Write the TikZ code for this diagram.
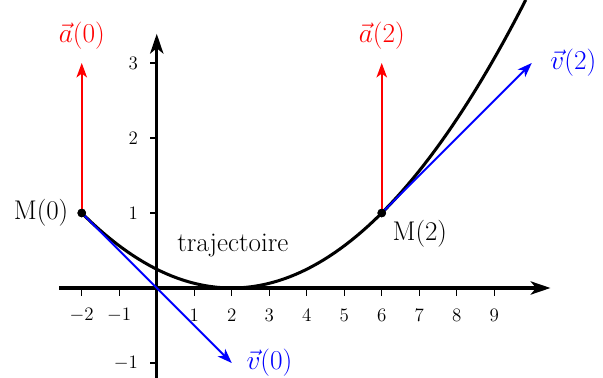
\documentclass[tikz,border=0pt]{standalone}
\usetikzlibrary{arrows.meta}
\begin{document}
\begin{tikzpicture}[x=1cm,y=2cm,
  axis/.style={line width=2.5pt,-{Stealth[length=15pt,width=10pt,inset=4pt]}},
  tickmark/.style={line width=0.8pt},
  ticklabel/.style={inner sep=0pt,font=\fontsize{15}{17}\selectfont},
  lbl/.style={inner sep=0pt,font=\fontsize{20.5}{23}\selectfont},
  vecarrow/.style={line width=1.4pt,-{Stealth[length=11pt,width=8pt,inset=3pt]}},
  curve/.style={line width=2.3pt},
  dot/.style={circle,fill=black,inner sep=0pt,minimum size=6.5pt}]
\useasboundingbox (-4.18,-1.2) rectangle (11.9,3.84);
% axes
\coordinate (xs) at (-2.6,0);
\coordinate (xe) at (10.5,0);
\coordinate (ys) at (0,-1.25);
\coordinate (ye) at (0,3.39);
\draw[axis] (xs) -- (xe);
\draw[axis] (ys) -- (ye);
\foreach \x in {-2,-1,1,2,3,4,5,6,7,8,9}{
  \draw[tickmark] (\x,0) -- ++(0,-6pt);
  \node[ticklabel] at ([yshift=-20.5pt]\x,0) {$\x$};
}
\foreach \y in {-1,1,2,3}{
  \draw[tickmark] (0,\y) -- ++(-5pt,0);
  \node[ticklabel,anchor=east] at ([xshift=-14pt]0,\y) {$\y$};
}
% trajectory
\draw[curve] plot[domain=-2:9.84,samples=80] (\x,{(\x-2)^2/16});
% points
\node[dot] (M0) at (-2,1) {};
\node[dot] (M2) at (6,1) {};
\coordinate (A0) at (-2,3);
\coordinate (A2) at (6,3);
\coordinate (V0) at (2,-1);
\coordinate (V2) at (10,3);
\draw[vecarrow,red] (M0.center) -- (A0);
\draw[vecarrow,red] (M2.center) -- (A2);
\draw[vecarrow,blue] (M0.center) -- (V0);
\draw[vecarrow,blue] (M2.center) -- (V2);
\node[dot] at (M0) {};
\node[dot] at (M2) {};
% labels
\node[lbl,red,anchor=south] (la0) at ([yshift=10pt]A0) {$\vec{a}(0)$};
\node[lbl,red,anchor=south] (la2) at ([yshift=10pt]A2) {$\vec{a}(2)$};
\node[lbl,blue,anchor=west] (lv2) at ([xshift=14pt]V2) {$\vec{v}(2)$};
\node[lbl,blue,anchor=west] (lv0) at ([xshift=11pt]V0) {$\vec{v}(0)$};
\node[lbl,anchor=east] (lm0) at ([xshift=-10pt]M0.center) {M(0)};
\node[lbl,anchor=north west] (lm2) at ([xshift=8pt,yshift=-5pt]M2.center) {M(2)};
\node[lbl] (traj) at (2.03,0.57) {trajectoire};
\end{tikzpicture}
\end{document}
